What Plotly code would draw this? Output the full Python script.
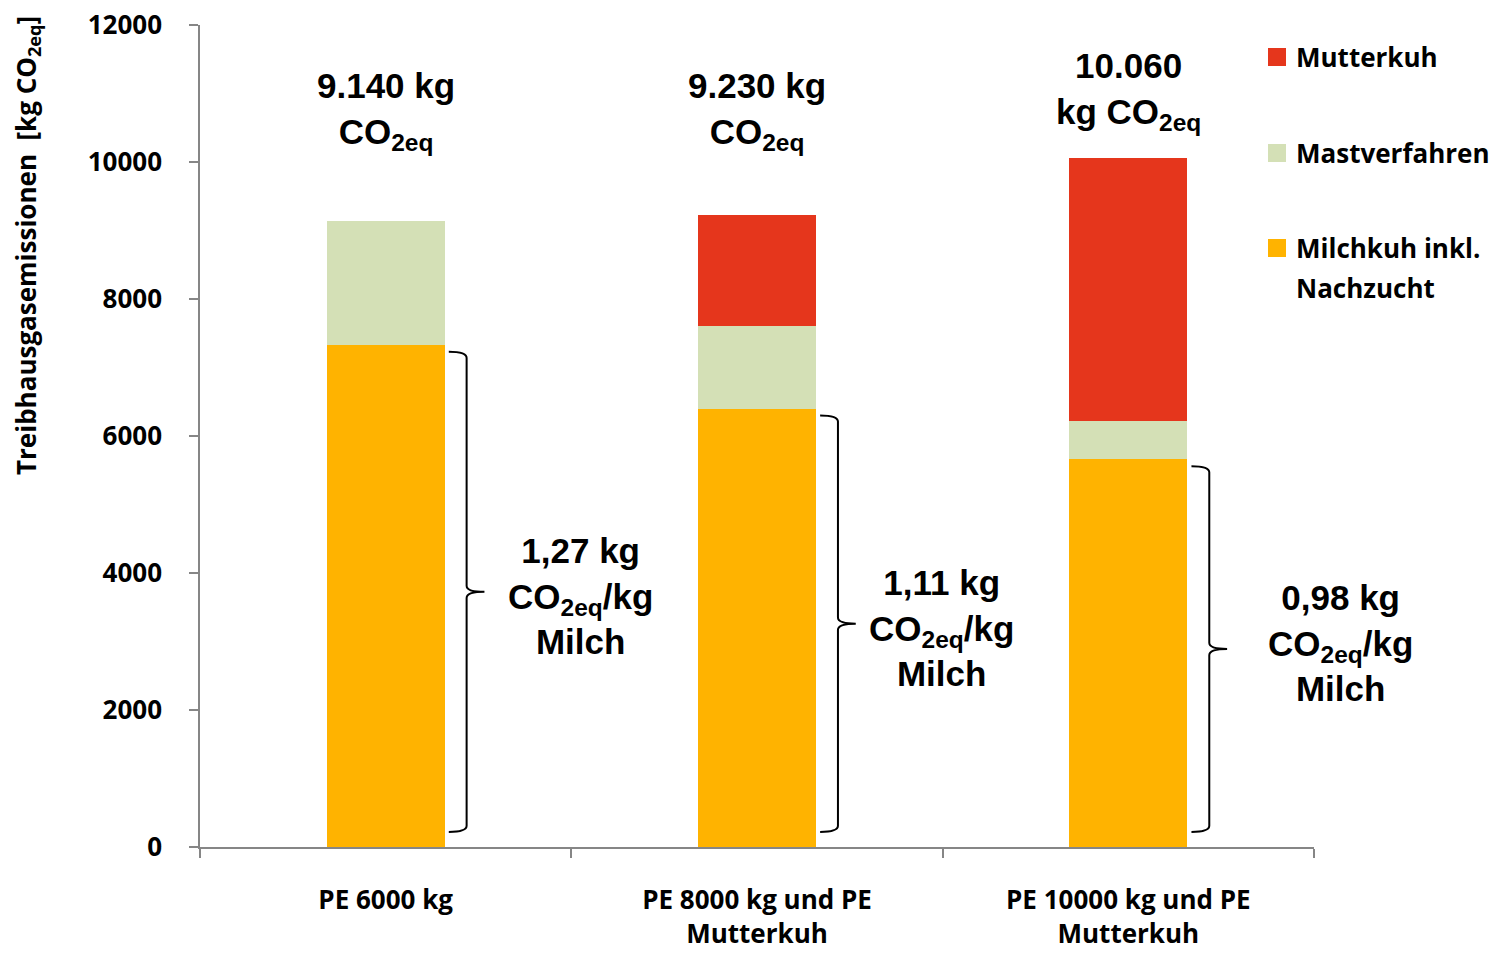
import plotly.graph_objects as go

# Categories (x axis) and stacked emission components in kg CO2eq
categories = ["PE 6000 kg", "PE 8000 kg und PE<br>Mutterkuh", "PE 10000 kg und PE<br>Mutterkuh"]
milchkuh = [7330, 6400, 5660]
mastverfahren = [1810, 1200, 560]
mutterkuh = [0, 1630, 3840]

total_labels = ["9.140 kg<br>CO<sub>2eq</sub>", "9.230 kg<br>CO<sub>2eq</sub>", "10.060<br>kg CO<sub>2eq</sub>"]
per_milk_labels = [
    "1,27 kg<br>CO<sub>2eq</sub>/kg<br>Milch",
    "1,11 kg<br>CO<sub>2eq</sub>/kg<br>Milch",
    "0,98 kg<br>CO<sub>2eq</sub>/kg<br>Milch",
]
y_ticks = [0, 2000, 4000, 6000, 8000, 10000, 12000]
y_tick_text = ["0", "2000", "4000", "6000", "8000", "10000", "12000"]

series_names = ["Mutterkuh", "Mastverfahren", ["Milchkuh inkl.", "Nachzucht"]]

C_MILCH = "#FFB300"
C_MAST = "#D4E0B6"
C_MUTTER = "#E5361C"
AXIS = "#868686"
TICK_FONT = dict(family="Open Sans", size=26, color="#000000", weight="bold")
LABEL_FONT = dict(family="Liberation Sans, Arial", size=35, color="#000000", weight="bold")

# page geometry of the plot area (px) for placing page-level decorations
L, R, T, B = 200, 1314, 25, 847
def px_x(p):
    return (p - L) / (R - L)
def px_y(p):
    return (B - p) / (B - T)

xs = list(range(len(categories)))
bar_w = 0.318

fig = go.Figure()
fig.add_bar(x=xs, y=milchkuh, name="Milchkuh inkl. Nachzucht", marker_color=C_MILCH,
            width=bar_w, marker_line_width=0)
fig.add_bar(x=xs, y=mastverfahren, name="Mastverfahren", marker_color=C_MAST,
            width=bar_w, marker_line_width=0)
fig.add_bar(x=xs, y=mutterkuh, name="Mutterkuh", marker_color=C_MUTTER,
            width=bar_w, marker_line_width=0)

annotations = []
shapes = []
total_shift = [63, 57, 20]
milk_label_shift = [96, 86, 113]
milk_label_yshift = [-4, -4, 6]
for i in xs:
    total = milchkuh[i] + mastverfahren[i] + mutterkuh[i]
    # total label above each stack
    annotations.append(dict(x=i, y=total, xref="x", yref="y", text=total_labels[i],
                            showarrow=False, yanchor="bottom", yshift=total_shift[i],
                            font=LABEL_FONT, align="center"))
    # curly brace beside the dairy-cow segment
    top = milchkuh[i] - 100
    bot = 220
    mid = (top + bot) / 2
    x0, x1, x2 = i + 0.170, i + 0.218, i + 0.266
    r = 90
    path = (f"M {x0},{top} Q {x1},{top} {x1},{top - r} "
            f"L {x1},{mid + r} Q {x1},{mid} {x2},{mid} "
            f"Q {x1},{mid} {x1},{mid - r} "
            f"L {x1},{bot + r} Q {x1},{bot} {x0},{bot}")
    shapes.append(dict(type="path", path=path, xref="x", yref="y",
                       line=dict(color="#000000", width=2)))
    annotations.append(dict(x=x2, y=mid, xref="x", yref="y",
                            text=per_milk_labels[i], showarrow=False, xanchor="center",
                            xshift=milk_label_shift[i], yshift=milk_label_yshift[i],
                            font=LABEL_FONT, align="center"))

# y axis title
annotations.append(dict(x=px_x(27), y=px_y(246), xref="paper", yref="paper",
                        xanchor="center", yanchor="middle",
                        text="Treibhausgasemissionen  [kg CO<sub>2eq</sub>]",
                        textangle=-90, showarrow=False, font=TICK_FONT))

# legend: colour squares with bold labels
legend_colors = [C_MUTTER, C_MAST, C_MILCH]
legend_y = [57, 153, 248]
for name, col, yy in zip(series_names, legend_colors, legend_y):
    shapes.append(dict(type="rect", xref="paper", yref="paper",
                       x0=px_x(1268), x1=px_x(1286), y0=px_y(yy + 9), y1=px_y(yy - 9),
                       fillcolor=col, line=dict(width=0)))
    lines = name if isinstance(name, list) else [name]
    for k, line in enumerate(lines):
        annotations.append(dict(x=px_x(1294), y=px_y(yy + 40 * k), xref="paper", yref="paper",
                                text=line, showarrow=False, xanchor="left", yanchor="middle",
                                font=TICK_FONT))

fig.update_layout(
    barmode="stack",
    width=1501, height=953,
    margin=dict(l=L, r=1501 - R, t=T, b=953 - B),
    paper_bgcolor="white", plot_bgcolor="white",
    font=TICK_FONT,
    showlegend=False,
    xaxis=dict(range=[-0.5, 2.5], tickmode="array", tickvals=xs, ticktext=categories,
               ticks="", showline=True, linecolor=AXIS, linewidth=1.5, showgrid=False,
               zeroline=False, tickfont=TICK_FONT, ticklabelstandoff=29, automargin=False,
               minor=dict(tickmode="array", tickvals=[-0.5, 0.5, 1.5, 2.5], ticks="outside",
                          ticklen=9, tickcolor=AXIS, tickwidth=1.5, showgrid=False)),
    yaxis=dict(range=[0, 12000], tickmode="array", tickvals=y_ticks, ticktext=y_tick_text,
               ticks="outside", ticklen=9, tickcolor=AXIS, tickwidth=1.5, showline=True,
               linecolor=AXIS, linewidth=1.5, showgrid=False, zeroline=False,
               tickfont=TICK_FONT, ticklabelstandoff=22, automargin=False),
    annotations=annotations,
    shapes=shapes,
)

fig.write_html("out.html")
